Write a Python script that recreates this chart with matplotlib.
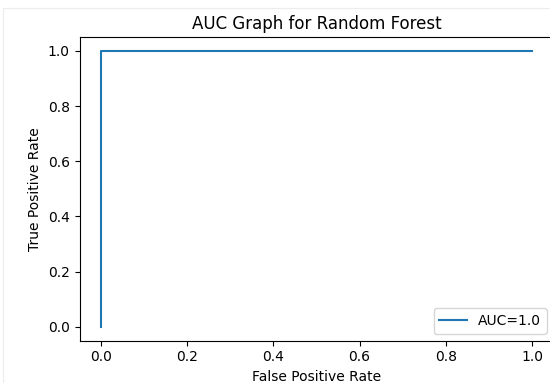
import matplotlib
matplotlib.use("Agg")
from matplotlib import pyplot as plt
from matplotlib.patches import Rectangle

# ROC curve points for the random forest
fpr = [0.0, 0.0, 1.0]
tpr = [0.0, 1.0, 1.0]
auc = 1.0

plt.rcParams['font.size'] = 10
fig = plt.figure(figsize=(5.5, 3.83), dpi=100)

# faint screenshot frame
fig.patches.append(Rectangle((3 / 550, -0.01), 1.02, 1 - 8 / 383 + 0.01,
                             transform=fig.transFigure, fill=False,
                             edgecolor='#ececec', lw=0.8))

ax = fig.add_axes([79.5 / 550, 1 - 340.5 / 383, 474 / 550, 303.3 / 383])

ax.plot(fpr, tpr, label='AUC=' + str(auc))
ax.set_xlim(-0.05, 1.05)
ax.set_ylim(-0.05, 1.05)
ax.set_title('AUC Graph for Random Forest')
ax.set_xlabel('False Positive Rate')
ax.set_ylabel('True Positive Rate')
ax.legend(loc=4)

fig.savefig('out.png')
